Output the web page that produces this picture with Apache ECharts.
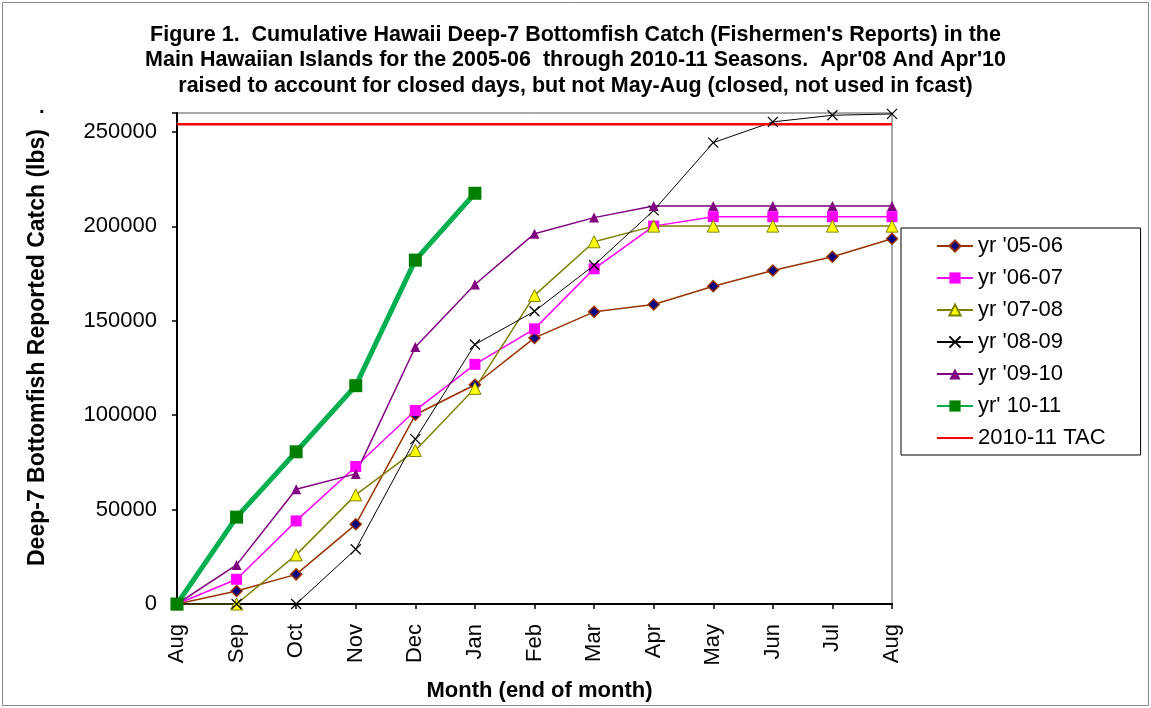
<!DOCTYPE html>
<html>
<head>
<meta charset="utf-8">
<script src="https://cdn.jsdelivr.net/npm/echarts@6/dist/echarts.min.js"></script>
<style>
    html, body { margin: 0; padding: 0; background: #fff; }
    #chart { width: 1151px; height: 708px; }
</style>
</head>
<body>
<div id="chart"></div>
<script>
// months (end of month), Aug through the following Aug
const months = ['Aug', 'Sep', 'Oct', 'Nov', 'Dec', 'Jan', 'Feb', 'Mar', 'Apr', 'May', 'Jun', 'Jul', 'Aug'];

// cumulative catch (lbs)
const yr0506 = [0, 6900, 15700, 42200, 100200, 116100, 140900, 154700, 158600, 168300, 176600, 183900, 193400];
const yr0607 = [0, 13100, 44000, 72800, 102500, 126900, 145700, 177500, 200100, 205100, 205100, 205100, 205100];
const yr0708 = [0, 0, 26000, 57800, 81300, 114200, 163400, 191800, 200100, 200100, 200100, 200100, 200100];
const yr0809 = [0, 0, 0, 29000, 87300, 137400, 155000, 179400, 208400, 244300, 255300, 258800, 259500];
const yr0910 = [0, 20700, 60800, 68900, 136100, 169200, 196100, 204600, 210700, 210700, 210700, 210700, 210700];
const yr1011 = [0, 46000, 80600, 115600, 182100, 217500];
const tac = [254050, 254050, 254050, 254050, 254050, 254050, 254050, 254050, 254050, 254050, 254050, 254050, 254050];

const yTicks = { min: 0, max: 260000, interval: 50000 };

const font = 'Liberation Sans, Arial, sans-serif';

const chart = echarts.init(document.getElementById('chart'));
chart.setOption({
    backgroundColor: '#fff',
    animation: false,
    textStyle: { fontFamily: font, color: '#000' },
    title: {
        text: "Figure 1.  Cumulative Hawaii Deep-7 Bottomfish Catch (Fishermen's Reports) in the\n" +
            "Main Hawaiian Islands for the 2005-06  through 2010-11 Seasons.  Apr'08 And Apr'10\n" +
            "raised to account for closed days, but not May-Aug (closed, not used in fcast)",
        left: 'center',
        top: 17,
        textStyle: {
            fontFamily: font,
            fontSize: 21.5,
            fontWeight: 'bold',
            lineHeight: 25.5,
            color: '#000'
        }
    },
    grid: {
        left: 177,
        right: 259,
        top: 113,
        bottom: 104,
        show: true,
        borderColor: '#555',
        borderWidth: 1
    },
    legend: {
        orient: 'vertical',
        left: 901,
        top: 228,
        padding: [7, 35, 6, 35],
        itemGap: 10,
        itemWidth: 36,
        itemHeight: 14,
        borderColor: '#000',
        borderWidth: 1,
        textStyle: { fontFamily: font, fontSize: 22, lineHeight: 22, color: '#000' },
        data: ["yr '05-06", "yr '06-07", "yr '07-08", "yr '08-09", "yr '09-10", "yr' 10-11", '2010-11 TAC']
    },
    xAxis: {
        type: 'category',
        data: months,
        boundaryGap: false,
        name: 'Month (end of month)',
        nameLocation: 'middle',
        nameGap: 76,
        nameTextStyle: { fontFamily: font, fontSize: 22, fontWeight: 'bold', color: '#000', padding: [0, 0, 0, 10] },
        axisLine: { lineStyle: { color: '#000', width: 2 } },
        axisTick: { length: 5, lineStyle: { color: '#000', width: 1.5 } },
        axisLabel: { interval: 0, rotate: 90, margin: 20, fontSize: 22, color: '#000', fontFamily: font },
        splitLine: { show: false }
    },
    yAxis: {
        type: 'value',
        min: yTicks.min,
        max: yTicks.max,
        interval: yTicks.interval,
        name: 'Deep-7 Bottomfish Reported Catch (lbs)',
        nameLocation: 'middle',
        nameGap: 128,
        nameTextStyle: { fontFamily: font, fontSize: 23, fontWeight: 'bold', color: '#000', padding: [0, 0, 0, 22] },
        axisLine: { show: true, lineStyle: { color: '#000', width: 2 } },
        axisTick: { show: true, length: 5, lineStyle: { color: '#000', width: 1.5 } },
        axisLabel: {
            margin: 20,
            fontSize: 22,
            color: '#000',
            fontFamily: font,
            formatter: function (v) { return v > 250000 ? '' : String(v); }
        },
        splitLine: { show: false }
    },
    graphic: [
        {
            type: 'rect',
            shape: { x: 2.5, y: 2.5, width: 1146, height: 703 },
            style: { fill: 'none', stroke: '#888', lineWidth: 1 },
            silent: true
        },
        {
            type: 'text',
            left: 39,
            top: 97,
            style: { text: '.', font: 'bold 20px ' + font, fill: '#000' }
        }
    ],
    series: [
        {
            name: "yr '05-06",
            type: 'line',
            data: yr0506,
            symbol: 'diamond',
            symbolSize: 11,
            lineStyle: { color: '#993300', width: 1.5 },
            itemStyle: { color: '#000080', borderColor: '#993300', borderWidth: 1.5 }
        },
        {
            name: "yr '06-07",
            type: 'line',
            data: yr0607,
            symbol: 'rect',
            symbolSize: 11,
            lineStyle: { color: '#FF00FF', width: 1.5 },
            itemStyle: { color: '#FF00FF' }
        },
        {
            name: "yr '07-08",
            type: 'line',
            data: yr0708,
            symbol: 'triangle',
            symbolSize: 12,
            lineStyle: { color: '#808000', width: 1.5 },
            itemStyle: { color: '#FFFF00', borderColor: '#808000', borderWidth: 1 }
        },
        {
            name: "yr '08-09",
            type: 'line',
            data: yr0809,
            symbol: 'path://M0,0L10,10M10,0L0,10',
            symbolSize: 10,
            lineStyle: { color: '#000', width: 1 },
            itemStyle: { color: 'none', borderColor: '#000', borderWidth: 1.2 }
        },
        {
            name: "yr '09-10",
            type: 'line',
            data: yr0910,
            symbol: 'triangle',
            symbolSize: 10,
            lineStyle: { color: '#800080', width: 1.5 },
            itemStyle: { color: '#800080' }
        },
        {
            name: '2010-11 TAC',
            type: 'line',
            data: tac,
            symbol: 'none',
            lineStyle: { color: '#FF0000', width: 2.5 },
            itemStyle: { color: 'rgba(0,0,0,0)', borderColor: 'rgba(0,0,0,0)' }
        },
        {
            name: "yr' 10-11",
            type: 'line',
            data: yr1011,
            symbol: 'rect',
            symbolSize: 13,
            z: 5,
            lineStyle: { color: '#00B050', width: 5 },
            itemStyle: { color: '#008000' }
        }
    ]
});
</script>
</body>
</html>
